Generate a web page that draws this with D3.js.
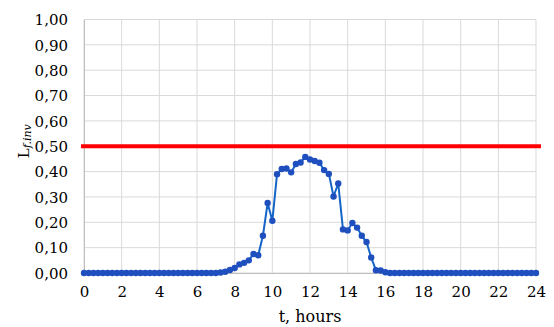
<!DOCTYPE html>
<html>
<head>
<meta charset="utf-8">
<script src="https://cdn.jsdelivr.net/npm/d3@7"></script>
<style>
  body { margin: 0; background: #fff; }
</style>
</head>
<body>
<div id="chart"></div>
<script>
var width = 554;
var height = 327;
var serif = "'DejaVu Serif', 'Liberation Serif', serif";

var times = d3.range(0, 24.001, 0.25);
var nonZero = {
    7.25: 0.002, 7.5: 0.005, 7.75: 0.012, 8: 0.02, 8.25: 0.034, 8.5: 0.04,
    8.75: 0.05, 9: 0.075, 9.25: 0.07, 9.5: 0.147, 9.75: 0.276, 10: 0.206,
    10.25: 0.39, 10.5: 0.41, 10.75: 0.412, 11: 0.397, 11.25: 0.43, 11.5: 0.436,
    11.75: 0.458, 12: 0.448, 12.25: 0.442, 12.5: 0.435, 12.75: 0.406, 13: 0.391,
    13.25: 0.302, 13.5: 0.353, 13.75: 0.172, 14: 0.168, 14.25: 0.197, 14.5: 0.179,
    14.75: 0.147, 15: 0.122, 15.25: 0.061, 15.5: 0.011, 15.75: 0.01, 16: 0.003
};
var lfinv = times.map(function(t) { return nonZero[t] || 0; });
var limitValue = 0.5;

var xTicks = d3.range(0, 25, 2);
var yTicks = d3.range(0, 1.001, 0.1);

var margin = { left: 84, right: 18, top: 19.5, bottom: 54 };

var x = d3.scaleLinear().domain([0, 24]).range([margin.left, width - margin.right]);
var y = d3.scaleLinear().domain([0, 1]).range([height - margin.bottom, margin.top]);

var svg = d3.select("#chart")
    .append("svg")
    .attr("width", width)
    .attr("height", height);

// gridlines
svg.append("g")
    .selectAll("line")
    .data(yTicks)
    .enter()
    .append("line")
    .attr("x1", x(0)).attr("x2", x(24))
    .attr("y1", function(d) { return y(d); })
    .attr("y2", function(d) { return y(d); })
    .attr("stroke", "#d9d9d9")
    .attr("stroke-width", 1);

svg.append("g")
    .selectAll("line")
    .data(xTicks)
    .enter()
    .append("line")
    .attr("y1", y(0)).attr("y2", y(1))
    .attr("x1", function(d) { return x(d); })
    .attr("x2", function(d) { return x(d); })
    .attr("stroke", "#d9d9d9")
    .attr("stroke-width", 1);

// axes
var fmt = function(d) { return d3.format(".2f")(d).replace(".", ","); };

var yAxis = svg.append("g")
    .attr("transform", "translate(" + x(0) + ",0)")
    .call(d3.axisLeft(y).tickValues(yTicks).tickFormat(fmt).tickSize(0).tickPadding(16));
yAxis.attr("font-family", serif);
yAxis.select(".domain").attr("stroke", "#bfbfbf");
yAxis.selectAll("text").style("font-family", serif).style("font-size", "15px").attr("dy", "0.35em");

var xAxis = svg.append("g")
    .attr("transform", "translate(0," + y(0) + ")")
    .call(d3.axisBottom(x).tickValues(xTicks).tickFormat(d3.format("d")).tickSize(0).tickPadding(13));
xAxis.attr("font-family", serif);
xAxis.select(".domain").attr("stroke", "#bfbfbf");
xAxis.selectAll("text").style("font-family", serif).style("font-size", "15px");

// limit line
svg.append("line")
    .attr("x1", x(0) - 3).attr("x2", x(24) + 5)
    .attr("y1", y(limitValue)).attr("y2", y(limitValue))
    .attr("stroke", "#ff0000")
    .attr("stroke-width", 4);

// series
var line = d3.line()
    .x(function(d, i) { return x(times[i]); })
    .y(function(d) { return y(d); });

svg.append("path")
    .datum(lfinv)
    .attr("fill", "none")
    .attr("stroke", "#1565c8")
    .attr("stroke-width", 2)
    .attr("d", line);

svg.append("g")
    .selectAll("circle")
    .data(lfinv)
    .enter()
    .append("circle")
    .attr("cx", function(d, i) { return x(times[i]); })
    .attr("cy", function(d) { return y(d); })
    .attr("r", 3.2)
    .attr("fill", "#1f4fbf");

// axis titles
svg.append("text")
    .attr("x", x(12))
    .attr("y", 322)
    .attr("text-anchor", "middle")
    .style("font-family", serif)
    .style("font-size", "16px")
    .text("t, hours");

var yTitle = svg.append("text")
    .attr("transform", "translate(29," + y(0.52) + ") rotate(-90)")
    .attr("text-anchor", "middle")
    .style("font-family", serif)
    .style("font-size", "15px");
yTitle.append("tspan").text("L");
yTitle.append("tspan")
    .attr("dy", 2)
    .style("font-size", "11px")
    .style("font-style", "italic")
    .text("f.inv");
</script>
</body>
</html>
